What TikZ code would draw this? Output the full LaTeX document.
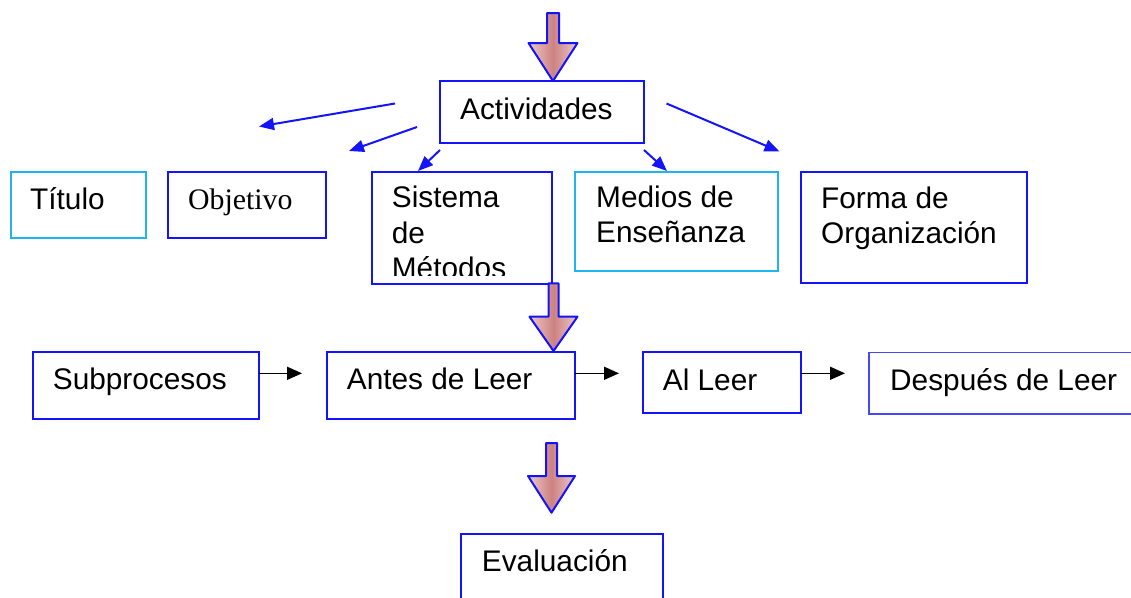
\documentclass[tikz,border=0pt]{standalone}
\usepackage{fontspec}
\setmainfont{Liberation Sans}
\newfontfamily\timesfont{Liberation Serif}
\usetikzlibrary{arrows.meta,calc}
\definecolor{bxblue}{RGB}{20,20,250}
\definecolor{bxlight}{RGB}{30,180,240}
\definecolor{bxpale}{RGB}{70,70,250}
\definecolor{arrdark}{RGB}{205,130,130}
\definecolor{arrlight}{RGB}{238,200,200}
\newcommand\blockarr[6]{%
  \draw[draw=bxblue, line width=2pt, line join=round,
        left color=arrlight, right color=arrlight, middle color=arrdark]
    (#1-#2,#3) -- (#1+#2,#3) -- (#1+#2,#4) -- (#1+#6,#4) -- (#1,#5)
    -- (#1-#6,#4) -- (#1-#2,#4) -- cycle;}
\begin{document}
\begin{tikzpicture}[x=1pt,y=-1pt,
  box/.style={draw=bxblue, line width=2pt, anchor=north west, inner sep=0pt, outer sep=0pt},
  lbox/.style={box, draw=bxlight},
  pbox/.style={box, draw=bxpale, line width=1.6pt},
  txt/.style={anchor=base west, inner sep=0pt, font=\fontsize{29.8}{35.5}\selectfont},
  bluearrow/.style={draw=bxblue, line width=2pt, -{Triangle[length=15pt,width=12pt]}},
  blackarrow/.style={draw=black, line width=1.6pt, -{Triangle[length=15pt,width=13pt]}}]
\clip (0,0) rectangle (1131,597);
\fill[white] (0,0) rectangle (1131,597);

% top row boxes
\node[box, minimum width=204pt, minimum height=62pt] (act) at (440,81) {};
\node[txt] (actt) at (460,119) {Actividades};

\node[lbox, minimum width=135pt, minimum height=66.6pt] (tit) at (10.7,171.7) {};
\node[txt] (titt) at (30,209) {Título};

\node[box, minimum width=158pt, minimum height=66.6pt] (obj) at (168,171.7) {};
\node[txt, font=\timesfont\fontsize{29.8}{35.5}\selectfont] (objt) at (188,209) {Objetivo};

\node[box, minimum width=180pt, minimum height=112.3pt] (sis) at (372,171.7) {};
\begin{scope}
  \clip (372,171.7) rectangle (552,275);
  \node[txt] (sist) at (391.7,207.5) {\begin{tabular}[t]{@{}l@{}}Sistema\\de\\Métodos\end{tabular}};
\end{scope}

\node[lbox, minimum width=203.3pt, minimum height=99pt] (med) at (575,171.7) {};
\node[txt] (medt) at (596,207) {\begin{tabular}[t]{@{}l@{}}Medios de\\Enseñanza\end{tabular}};

\node[box, minimum width=226pt, minimum height=111.6pt] (for) at (800.7,171.7) {};
\node[txt] (fort) at (821,208) {\begin{tabular}[t]{@{}l@{}}Forma de\\Organización\end{tabular}};

% second row
\node[box, minimum width=226pt, minimum height=67.6pt] (sub) at (32.7,351.7) {};
\node[txt] (subt) at (52.7,389.3) {Subprocesos};

\node[box, minimum width=248.3pt, minimum height=67.3pt] (ant) at (326.7,351.7) {};
\node[txt] (antt) at (346.7,389.3) {Antes de Leer};

\node[box, minimum width=158pt, minimum height=61.6pt] (al) at (642.7,351.7) {};
\node[txt] (alt) at (662.7,390) {Al Leer};

\node[pbox, minimum width=281pt, minimum height=61.7pt] (des) at (869,352.3) {};
\node[txt] (dest) at (890,390) {Después de Leer};

% bottom
\node[box, minimum width=202.6pt, minimum height=86pt] (eva) at (460.7,534) {};
\node[txt] (evat) at (481.7,571.7) {Evaluación};

% blue arrows from Actividades
\coordinate (a1s) at (395,103.5);  \coordinate (a1t) at (259,126.5);
\coordinate (a2s) at (417,127);    \coordinate (a2t) at (349,151);
\coordinate (a3t) at (418,171);
\coordinate (a4t) at (667,171);
\coordinate (a5s) at (666.5,103.5); \coordinate (a5t) at (779.5,151.5);
\draw[bluearrow] (a1s) -- (a1t);
\draw[bluearrow] (a2s) -- (a2t);
\draw[bluearrow] ($(act.south west)+(0,7)$) -- (a3t);
\draw[bluearrow] ($(act.south east)+(0,7)$) -- (a4t);
\draw[bluearrow] (a5s) -- (a5t);

% black arrows
\coordinate (b1t) at (302,373.3);
\coordinate (b2t) at (619,373.3);
\coordinate (b3t) at (845,373.3);
\draw[blackarrow] (sub.north east |- b1t) -- (b1t);
\draw[blackarrow] (ant.north east |- b2t) -- (b2t);
\draw[blackarrow] (al.north east |- b3t) -- (b3t);

% block arrows
\blockarr{553}{6}{13}{43}{81}{24.5}
\blockarr{553.5}{5}{283.3}{316.7}{351}{24}
\blockarr{551.5}{5.5}{443}{476}{512.7}{23.5}
\end{tikzpicture}
\end{document}
